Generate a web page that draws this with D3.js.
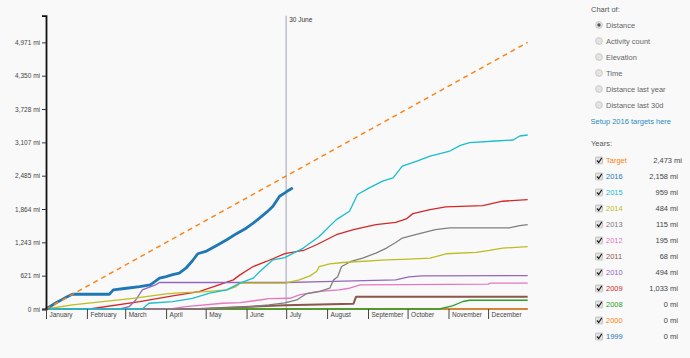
<!DOCTYPE html>
<html><head><meta charset="utf-8">
<script src="https://cdn.jsdelivr.net/npm/d3@7"></script>
<style>
body{margin:0;background:#f9f9f9;}
svg{display:block;font-family:"Liberation Sans",Arial,sans-serif;}
</style></head><body>
<svg id="c" width="690" height="358"></svg>
<script>
// ---------- data ----------
const seriesNames = ["Target","2016","2015","2014","2013","2012","2011","2010","2009","2008","2000","1999"];
const legendValues = [2473, 2158, 959, 484, 115, 195, 68, 494, 1033, 0, 0, 0];
const chartOptions = ["Distance","Activity count","Elevation","Time","Distance last year","Distance last 30d"];
const yTickKm = [0,1000,2000,3000,4000,5000,6000,7000,8000];
const kmToMi = 0.621371;
const markerLabel = "30 June";
const markerDate = "07-01";

const sTarget = [["01-01",0],["12-31",4971]];
const s2016 = [["01-01",0],["01-05",60],["01-09",120],["01-13",175],["01-17",230],["01-21",275],["02-18",275],["02-21",356],["03-02",387],["03-12",418],["03-20",449],["03-24",520],["03-27",574],["04-01",605],["04-06",640],["04-11",668],["04-16",760],["04-21",900],["04-25",1030],["05-01",1073],["05-09",1180],["05-17",1292],["05-24",1400],["06-01",1511],["06-06",1600],["06-11",1698],["06-16",1800],["06-21",1915],["06-26",2102],["06-30",2166],["07-03",2215],["07-06",2259]];
const s2015 = [["01-01",0],["03-14",0],["03-19",107],["04-06",137],["04-21",200],["05-04",294],["05-17",356],["05-27",481],["06-06",574],["06-11",698],["06-21",917],["06-30",959],["07-14",1136],["07-26",1353],["08-08",1666],["08-18",1821],["08-24",2134],["09-02",2259],["09-12",2383],["09-20",2446],["09-27",2664],["10-08",2757],["10-18",2851],["11-02",2945],["11-10",3051],["11-17",3102],["12-07",3132],["12-20",3151],["12-25",3225],["12-31",3244]];
const s2014 = [["01-01",0],["01-21",75],["03-07",200],["04-01",281],["04-11",300],["05-01",324],["05-17",356],["05-24",418],["05-27",481],["06-30",484],["07-11",543],["07-19",618],["07-24",698],["07-26",792],["08-03",842],["08-13",867],["09-15",917],["10-02",930],["10-18",949],["10-23",979],["10-30",1030],["11-22",1054],["12-02",1091],["12-12",1136],["12-31",1161]];
const s2013 = [["01-01",0],["04-26",0],["06-01",40],["06-18",75],["06-30",115],["07-09",168],["07-16",281],["07-26",324],["08-03",387],["08-06",543],["08-09",600],["08-12",792],["08-19",886],["08-28",949],["09-07",1043],["09-15",1136],["09-22",1241],["09-27",1323],["10-07",1385],["10-22",1479],["11-02",1511],["12-17",1511],["12-25",1554],["12-31",1572]];
const s2012 = [["01-01",0],["04-04",0],["04-16",43],["05-14",107],["05-27",120],["06-11",168],["06-18",195],["07-04",200],["07-11",262],["07-24",324],["08-10",356],["08-18",387],["08-26",449],["09-30",455],["12-01",465],["12-03",481],["12-31",481]];
const s2011 = [["01-01",0],["04-26",0],["05-17",25],["06-30",68],["08-21",100],["08-23",230],["12-31",230]];
const s2010 = [["01-01",0],["02-26",0],["03-04",43],["03-09",168],["03-14",356],["03-24",449],["03-27",494],["07-01",494],["07-29",511],["09-22",543],["10-02",600],["10-12",618],["12-31",623]];
const s2009 = [["01-01",0],["02-03",0],["03-12",137],["04-06",243],["04-26",324],["05-11",449],["05-22",543],["05-27",636],["06-06",792],["06-16",886],["06-30",1033],["07-14",1091],["07-24",1198],["08-08",1385],["08-21",1479],["09-07",1572],["09-22",1616],["09-30",1679],["10-05",1778],["10-18",1853],["10-30",1904],["11-27",1928],["12-12",2009],["12-31",2040]];
const s2008 = [["01-01",0],["10-25",0],["11-04",60],["11-12",140],["11-17",163],["12-31",163]];
const s2000 = [["01-01",0],["12-31",0]];
const s1999 = [["01-01",0],["12-31",0]];
const seriesData = [sTarget,s2016,s2015,s2014,s2013,s2012,s2011,s2010,s2009,s2008,s2000,s1999];

// ---------- chart ----------
const svg = d3.select("#c");
const parse = d3.timeParse("%Y-%m-%d");
const toDate = md => parse("2016-" + md);

const color = d3.scaleOrdinal(seriesNames.slice().reverse(), d3.schemeCategory10);

const x = d3.scaleTime().domain([parse("2016-01-01"), parse("2017-01-01")]).range([46, 529]);
const yMax = 8000 * kmToMi * 1.1;
const y = d3.scaleLinear().domain([0, yMax]).range([309, 15.7]);

// marker line
const mx = x(toDate(markerDate));
svg.append("line").attr("x1", mx).attr("x2", mx).attr("y1", 15.7).attr("y2", 310)
  .attr("stroke", "#b4b6c8").attr("stroke-width", 1.3);
svg.append("text").attr("x", mx + 3).attr("y", 20).attr("dy", "0.32em")
  .attr("font-size", 6.5).attr("fill", "#333").text(markerLabel);

// lines
const line = d3.line().x(d => x(toDate(d[0]))).y(d => y(d[1]));
const order = d3.range(seriesNames.length).reverse(); // draw 1999 first ... target last
order.forEach(i => {
  const name = seriesNames[i];
  const p = svg.append("path").datum(seriesData[i])
    .attr("d", line).attr("fill", "none")
    .attr("stroke", color(name))
    .attr("stroke-linejoin", "round")
    .attr("stroke-width", name === "2016" ? 2.8 : (name === "2011" ? 2 : 1.3));
  if (name === "Target") p.attr("stroke-dasharray", "5,4").attr("stroke-width", 1.4);
});

// y axis
const yAxis = d3.axisLeft(y)
  .tickValues(yTickKm.map(k => k * kmToMi))
  .tickFormat(v => d3.format(",.0f")(v) + " mi")
  .tickSize(4).tickSizeOuter(4).tickPadding(2);
const gy = svg.append("g").attr("transform", "translate(46,0)").call(yAxis);
gy.select(".domain").attr("stroke", "#111").attr("stroke-width", 1.8);
gy.selectAll(".tick line").attr("stroke", "#333");
gy.selectAll("text").attr("font-size", 6.5).attr("fill", "#444")
  .attr("font-family", "\"Liberation Sans\",Arial,sans-serif");

// x axis
const xAxis = d3.axisBottom(x).ticks(d3.timeMonth.every(1))
  .tickFormat(d3.timeFormat("%B")).tickSize(10).tickSizeOuter(0);
const gx = svg.append("g").attr("transform", "translate(0,309)").call(xAxis);
gx.select(".domain").remove();
gx.selectAll(".tick line").attr("stroke", "#444");
gx.selectAll(".tick").filter(d => d >= parse("2017-01-01")).remove();
gx.selectAll("text").attr("font-size", 6.5).attr("fill", "#444")
  .attr("font-family", "\"Liberation Sans\",Arial,sans-serif")
  .attr("text-anchor", "start").attr("x", 3).attr("y", 6).attr("dy", "0.32em");

// ---------- side panel ----------
const fs = 7.5;
const panel = svg.append("g");
panel.append("text").attr("x", 591).attr("y", 9.3).attr("dy", "0.35em")
  .attr("font-size", fs).attr("fill", "#555").text("Chart of:");
chartOptions.forEach((o, i) => {
  const cy = 25 + i * 16;
  panel.append("circle").attr("cx", 599).attr("cy", cy).attr("r", 3.4)
    .attr("fill", "#e4e4e4").attr("stroke", "#c4c4c4").attr("stroke-width", 0.8);
  if (i === 0) panel.append("circle").attr("cx", 599).attr("cy", cy).attr("r", 1.7).attr("fill", "#555");
  panel.append("text").attr("x", 606).attr("y", cy).attr("dy", "0.35em")
    .attr("font-size", fs).attr("fill", "#666").text(o);
});
panel.append("text").attr("x", 590.5).attr("y", 121).attr("dy", "0.35em")
  .attr("font-size", fs).attr("fill", "#2a8cbf").text("Setup 2016 targets here");
panel.append("text").attr("x", 591).attr("y", 143.5).attr("dy", "0.35em")
  .attr("font-size", fs).attr("fill", "#555").text("Years:");
seriesNames.forEach((n, i) => {
  const cy = 160.5 + i * 16;
  panel.append("rect").attr("x", 595.5).attr("y", cy - 3.5).attr("width", 7).attr("height", 7)
    .attr("fill", "#e2e2e2").attr("stroke", "#aaa").attr("stroke-width", 0.6).attr("rx", 0.8);
  panel.append("path").attr("d", `M${597},${cy} L${598.7},${cy + 2} L${601.8},${cy - 2.6}`)
    .attr("fill", "none").attr("stroke", "#222").attr("stroke-width", 1.2);
  panel.append("text").attr("x", 606).attr("y", cy).attr("dy", "0.35em")
    .attr("font-size", fs).attr("fill", color(n)).text(n);
  panel.append("text").attr("x", i === 0 ? 682 : 678).attr("y", cy).attr("dy", "0.35em")
    .attr("text-anchor", "end").attr("font-size", fs).attr("fill", "#444")
    .text(d3.format(",")(legendValues[i]) + " mi");
});
</script>
</body></html>
